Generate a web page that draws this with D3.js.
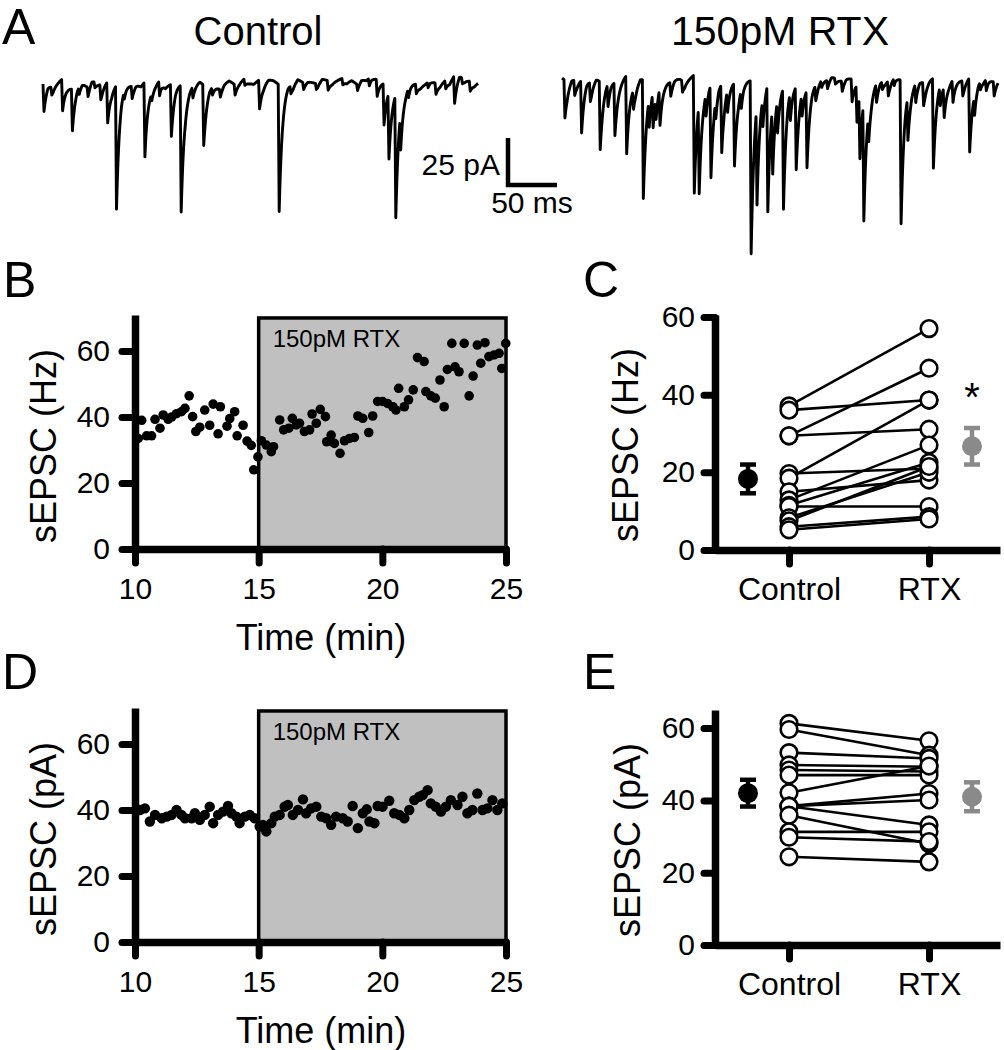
<!DOCTYPE html>
<html><head><meta charset="utf-8">
<script src="https://cdn.jsdelivr.net/npm/d3@7"></script>
<style>
body{margin:0;background:#fff}
svg{display:block}
text{font-family:"Liberation Sans",Arial,sans-serif;fill:#000}
</style>
</head><body>
<svg id="fig" width="1004" height="1050"></svg>
<script>
// ---------------- DATA ----------------
// Panel A: example traces. events = [time (ms), amplitude (pA, inward)], baseline samples every 5 ms (pA)
const ctrlEvents = [[0,15],[8,4],[19,17],[29,22],[36,4],[45,6],[52,3],[58,8],[65,21],[74,66],[82,4],[90,7],[103,40],[110,4],[118,8],[130,28],[140,67],[152,6],[163,32],[172,4],[180,5],[195,6],[205,3],[220,15],[240,68],[252,4],[265,4],[278,3],[290,5],[305,3],[320,4],[332,4],[340,9],[347,22],[352,35],[359,65],[364,20],[372,5],[380,5],[392,3],[400,6],[410,4],[419,15],[427,3],[435,5]];
const rtxEvents = [[2,20],[12,8],[19,28],[28,10],[38,36],[46,12],[53,28],[65,41],[72,10],[82,63],[88,15],[92,19],[95,12],[99,20],[110,8],[122,6],[134,63],[139,48],[146,12],[151,49],[156,10],[162,36],[168,12],[175,44],[182,10],[192,92],[198,53],[204,15],[209,68],[214,36],[219,18],[225,65],[232,15],[238,44],[244,12],[249,41],[258,8],[264,4],[270,5],[278,3],[285,6],[295,12],[300,20],[303,34],[307,63],[312,15],[320,10],[326,4],[332,8],[338,4],[345,77],[352,23],[360,10],[368,12],[378,48],[385,10],[389,16],[398,12],[408,8],[415,39],[420,11],[426,4],[432,6],[440,8]];
const ctrlBaseline = [0,2,-1,1,3,0,-2,1,2,-1,3,1,0,2,-1,1,3,2,0,1,-1,2,0,1,3,-1,0,2,1,-2,0,1,2,-1,1,0,-2,1,2,0,1,3,1,0,2,1,3,2,0,1,2,0,3,1,2,1,0,3,2,1,2,3,1,2,0,3,2,4,3,2,1,0,-1,1,0,2,1,-1,0,2,1,0,2,1,5,7,3,2,0,1];
const rtxBaseline = [1,-1,2,0,1,3,0,2,-1,1,2,0,1,3,1,-1,2,0,1,2,3,1,0,2,1,-1,1,3,2,0,2,1,3,0,2,1,-1,2,1,0,3,2,4,3,2,1,3,2,0,1,-1,1,0,2,1,3,1,0,2,1,0,2,1,-1,1,2,0,1,3,1,2,0,1,2,-1,1,2,3,1,0,2,1,0,2,1,3,1,2,0,1];
const traceTitles = ["Control", "150pM RTX"];
const scaleBarLabels = ["25 pA", "50 ms"];

// Panel B: sEPSC frequency (Hz) vs time (min)
const freqTime = [10.13,10.27,10.47,10.67,10.81,11.01,11.14,11.34,11.48,11.68,11.88,12.02,12.19,12.33,12.46,12.62,12.82,13.02,13.16,13.36,13.45,13.72,13.83,14.03,14.13,14.37,14.53,14.70,14.80,14.97,
  15.11,15.31,15.51,15.60,15.85,16.01,16.22,16.36,16.52,16.65,16.85,17.06,17.16,17.33,17.49,17.70,17.75,17.93,18.06,18.29,18.47,18.67,18.87,19.01,19.21,19.45,19.61,19.81,20.01,20.21,20.42,20.55,20.66,20.89,21.06,21.25,21.42,21.69,21.76,21.96,22.14,22.33,22.50,22.63,22.81,22.94,23.10,23.31,23.51,23.67,23.84,23.98,24.15,24.31,24.52,24.72,24.83,24.99];
const freqHz = [33.5,39.0,34.3,34.3,39.3,36.6,40.6,39.3,40.0,41.0,41.6,42.6,46.4,40.1,35.6,36.9,42.1,37.5,43.9,34.9,43.1,37.2,39.5,41.6,34.3,37.5,32.7,31.4,24.0,27.9,
  32.8,31.5,29.5,31.0,39.1,36.1,36.6,39.6,37.6,38.1,35.6,36.1,40.9,38.1,42.3,40.1,32.5,34.5,32.0,29.0,32.8,33.5,33.8,40.3,39.6,35.3,40.3,44.7,44.7,44.1,43.1,42.1,48.7,43.1,45.2,48.2,58.0,56.8,47.7,46.4,45.7,51.2,43.1,54.4,62.3,55.2,53.7,62.3,46.4,52.4,61.8,56.3,62.5,58.3,58.8,59.3,54.7,62.3];

// Panel D: sEPSC amplitude (pA) vs time (min)
const ampTime = [10.20,10.40,10.60,10.81,11.08,11.28,11.48,11.68,11.88,12.02,12.29,12.42,12.62,12.82,13.02,13.16,13.36,13.56,13.76,13.90,14.10,14.23,14.44,14.64,14.84,15.04,15.17,15.31,15.51,15.65,15.85,16.05,16.18,16.38,16.59,16.79,16.92,17.12,17.33,17.53,17.73,17.93,18.13,18.40,18.60,18.80,19.01,19.21,19.37,19.48,19.68,19.81,20.01,20.28,20.48,20.69,20.89,21.09,21.29,21.49,21.63,21.83,21.96,22.16,22.37,22.57,22.77,23.04,23.24,23.44,23.64,23.84,24.05,24.25,24.45,24.65,24.85];
const ampPA = [40.0,40.5,36.5,38.5,37.5,38.0,38.5,40.0,38.5,37.5,37.5,39.0,37.0,38.5,41.0,36.0,38.5,39.5,41.2,39.0,38.0,36.0,38.0,38.5,37.5,35.0,35.5,33.5,36.0,38.0,38.5,41.0,41.5,38.5,40.0,43.2,39.0,40.5,41.0,38.0,37.5,35.5,38.0,37.5,36.5,41.2,34.5,39.0,40.2,36.5,36.0,41.2,41.0,42.8,39.0,38.5,37.5,40.0,43.0,44.0,44.5,46.0,42.0,41.0,39.5,41.0,43.0,41.5,44.0,39.0,40.0,45.0,40.0,40.5,43.0,40.0,42.0];

const timeTicks = [10, 15, 20, 25];
const drugWindow = [15, 25];
const drugLabel = "150pM RTX";

// Panel C: paired frequency (Hz)
const groups = ["Control", "RTX"];
const pairedHzControl = [37.1,36.0,29.4,29.4,19.7,18.5,15.0,12.9,11.5,11.2,8.3,7.5,6.0,5.2];
const pairedHzRTX     = [57.0,38.6,46.8,31.1,21.0,38.6,18.0,27.0,22.5,11.2,20.0,21.5,8.6,8.0];
const meanHz = [18.3, 26.7];
const semHz  = [3.7, 4.7];
const hzTicks = [0, 20, 40, 60];

// Panel E: paired amplitude (pA)
const pairedPAControl = [61.3,59.6,53.2,49.8,48.4,47.0,42.1,38.4,38.4,38.4,35.9,31.3,29.8,24.4];
const pairedPARTX     = [56.5,52.5,51.6,49.3,48.0,47.0,49.5,41.9,40.1,33.2,28.0,31.3,28.6,23.0];
const meanPA = [42.0, 41.0];
const semPA  = [3.7, 4.0];
const paTicks = [0, 20, 40, 60];

// ---------------- DRAW ----------------
const svg = d3.select("#fig");
svg.append("rect").attr("width",1004).attr("height",1050).attr("fill","#fff");

const FONT_TICK = 30, FONT_TITLE = 36;

// panel letters
[["A",2,44],["B",3,297],["C",583,297],["D",2,689],["E",583,689]].forEach(([t,x,y])=>{
  svg.append("text").attr("x",x).attr("y",y).attr("font-size",50).text(t);
});

// ---- Panel A traces ----
const tau = 3.4, rise = 1.0, step = 0.5;
function buildTrace(events, base, dur){
  const pts=[];
  for(let t=0;t<=dur+1e-9;t+=step){
    const k=t/5, i=Math.min(Math.floor(k),base.length-1), j=Math.min(i+1,base.length-1), f=k-Math.floor(k);
    let v = base[i]*(1-f)+base[j]*f;
    for(const [t0,a] of events){
      const dt=t-t0; if(dt<0) continue;
      v -= a*(dt<rise ? dt/rise : Math.exp(-(dt-rise)/tau));
    }
    pts.push([t,v]);
  }
  return pts;
}
const pxPerPA = 1.88, pxPerMs = 0.98;
const xCtrl = d3.scaleLinear().domain([0,444]).range([43, 43+444*pxPerMs]);
const yCtrl = d3.scaleLinear().domain([0,-70]).range([84, 84+70*pxPerPA]);
const xRtx = d3.scaleLinear().domain([0,445]).range([562, 562+445*pxPerMs]);
const yRtx = d3.scaleLinear().domain([0,-70]).range([80, 80+70*pxPerPA]);

svg.append("path").datum(buildTrace(ctrlEvents, ctrlBaseline, 444))
  .attr("d", d3.line().x(d=>xCtrl(d[0])).y(d=>yCtrl(d[1])))
  .attr("fill","none").attr("stroke","#000").attr("stroke-width",2.9).attr("stroke-linejoin","round");
svg.append("path").datum(buildTrace(rtxEvents, rtxBaseline, 445))
  .attr("d", d3.line().x(d=>xRtx(d[0])).y(d=>yRtx(d[1])))
  .attr("fill","none").attr("stroke","#000").attr("stroke-width",2.9).attr("stroke-linejoin","round");

svg.append("text").attr("x",258).attr("y",45).attr("text-anchor","middle").attr("font-size",40).text(traceTitles[0]);
svg.append("text").attr("x",780).attr("y",45).attr("text-anchor","middle").attr("font-size",41).text(traceTitles[1]);

// scale bar: 25 pA x 50 ms
const sbX = 508, sbY = 185;
const sbH = 25*pxPerPA, sbW = 50*pxPerMs;
svg.append("path").attr("d",`M${sbX},${sbY-sbH}V${sbY}H${sbX+sbW}`)
  .attr("fill","none").attr("stroke","#000").attr("stroke-width",4.5);
svg.append("text").attr("x",500).attr("y",175).attr("text-anchor","end").attr("font-size",30).text(scaleBarLabels[0]);
svg.append("text").attr("x",532).attr("y",213).attr("text-anchor","middle").attr("font-size",30).text(scaleBarLabels[1]);

// ---- axis styling helper ----
function styleAxis(g, fontSize){
  g.select(".domain").attr("stroke","#000").attr("stroke-width",7.5);
  g.selectAll(".tick line").attr("stroke","#000").attr("stroke-width",7).attr("stroke-linecap","round");
  g.selectAll(".tick text").attr("font-size",fontSize).attr("fill","#000").attr("font-family",'"Liberation Sans",Arial,sans-serif');
}

// ---- time course panels (B, D) ----
function timePanel(opt){
  const x = d3.scaleLinear().domain([10,25]).range([135,506]);
  const y = d3.scaleLinear().domain([0,70.9]).range([opt.y0, opt.y0-234]);
  const g = svg.append("g");
  g.append("rect").attr("x",x(drugWindow[0])).attr("y",y(70))
    .attr("width",x(drugWindow[1])-x(drugWindow[0])).attr("height",y(0)-y(70))
    .attr("fill","#c0c0c0").attr("stroke","#000").attr("stroke-width",3.5);
  g.append("text").attr("x",x(drugWindow[0])+14).attr("y",y(70)+29).attr("font-size",24).attr("fill","#111").text(drugLabel);
  g.selectAll("circle").data(opt.t.map((t,i)=>[t,opt.v[i]])).join("circle")
    .attr("cx",d=>x(d[0])).attr("cy",d=>y(d[1])).attr("r",opt.r).attr("fill","#000");
  const gx = g.append("g").attr("transform",`translate(0,${y(0)})`)
    .call(d3.axisBottom(x).tickValues(timeTicks).tickSize(14).tickSizeOuter(0).tickPadding(15));
  styleAxis(gx, FONT_TICK);
  const gy = g.append("g").attr("transform",`translate(${x(10)},0)`)
    .call(d3.axisLeft(y).tickValues([0,20,40,60]).tickSize(13).tickSizeOuter(0).tickPadding(12));
  styleAxis(gy, FONT_TICK);
  g.append("text").attr("transform",`translate(56,${opt.y0-103}) rotate(-90)`).attr("text-anchor","middle")
    .attr("font-size",FONT_TITLE).text(opt.ylabel);
  g.append("text").attr("x",321).attr("y",opt.y0+101).attr("text-anchor","middle").attr("font-size",FONT_TITLE).text("Time (min)");
}
timePanel({y0:549, t:freqTime, v:freqHz, r:4.8, ylabel:"sEPSC (Hz)"});
timePanel({y0:942, t:ampTime, v:ampPA, r:5.2, ylabel:"sEPSC (pA)"});

// ---- paired panels (C, E) ----
function pairedPanel(opt){
  const x = d3.scaleLinear().domain([-0.5286,1.507]).range([715,1000]);
  const y = d3.scaleLinear().domain([0,opt.ymax]).range([opt.y0, opt.y0-235]);
  const g = svg.append("g");
  const gx = g.append("g").attr("transform",`translate(0,${y(0)})`)
    .call(d3.axisBottom(x).tickValues([0,1]).tickFormat(i=>groups[i]).tickSize(14).tickSizeOuter(0).tickPadding(13));
  styleAxis(gx, 32);
  const gy = g.append("g").attr("transform",`translate(${x(-0.5286)},0)`)
    .call(d3.axisLeft(y).tickValues(opt.ticks).tickSize(11).tickSizeOuter(0).tickPadding(9));
  styleAxis(gy, FONT_TICK);
  // paired lines
  g.selectAll("line.pair").data(opt.c.map((c,i)=>[c,opt.r[i]])).join("line").attr("class","pair")
    .attr("x1",x(0)).attr("x2",x(1)).attr("y1",d=>y(d[0])).attr("y2",d=>y(d[1]))
    .attr("stroke","#000").attr("stroke-width",2.6);
  g.selectAll("circle.c").data(opt.c).join("circle").attr("class","c")
    .attr("cx",x(0)).attr("cy",d=>y(d)).attr("r",8.3).attr("fill","#fff").attr("stroke","#000").attr("stroke-width",2.6);
  g.selectAll("circle.r").data(opt.r).join("circle").attr("class","r")
    .attr("cx",x(1)).attr("cy",d=>y(d)).attr("r",8.3).attr("fill","#fff").attr("stroke","#000").attr("stroke-width",2.6);
  // means
  const mpos = [-0.293, 1.307], mcol = ["#000","#8a8a8a"];
  opt.mean.forEach((m,i)=>{
    const cx = x(mpos[i]);
    g.append("line").attr("x1",cx).attr("x2",cx).attr("y1",y(m+opt.sem[i])).attr("y2",y(m-opt.sem[i]))
      .attr("stroke",mcol[i]).attr("stroke-width",4.5);
    [m+opt.sem[i], m-opt.sem[i]].forEach(v=>{
      g.append("line").attr("x1",cx-8).attr("x2",cx+8).attr("y1",y(v)).attr("y2",y(v))
        .attr("stroke",mcol[i]).attr("stroke-width",4.5);
    });
    g.append("circle").attr("cx",cx).attr("cy",y(m)).attr("r",10).attr("fill",mcol[i]);
  });
  if(opt.star){
    g.append("text").attr("x",x(1.307)).attr("y",opt.y0-139).attr("text-anchor","middle").attr("font-size",40).text("*");
  }
  g.append("text").attr("transform",`translate(${opt.tx},${opt.y0-105}) rotate(-90)`).attr("text-anchor","middle")
    .attr("font-size",FONT_TITLE).text(opt.ylabel);
}
pairedPanel({y0:550, ymax:60.5, ticks:hzTicks, c:pairedHzControl, r:pairedHzRTX, mean:meanHz, sem:semHz, star:true, ylabel:"sEPSC (Hz)", tx:638});
pairedPanel({y0:945, ymax:65, ticks:paTicks, c:pairedPAControl, r:pairedPARTX, mean:meanPA, sem:semPA, star:false, ylabel:"sEPSC (pA)", tx:640});
</script>
</body></html>
